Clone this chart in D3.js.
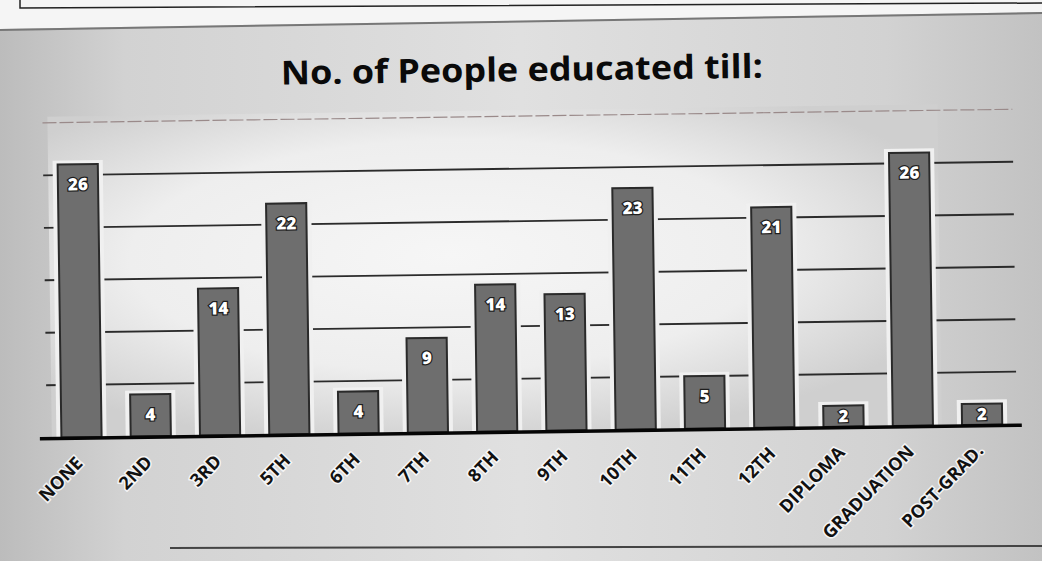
<!DOCTYPE html>
<html>
<head>
<meta charset="utf-8">
<script src="https://cdn.jsdelivr.net/npm/d3@7"></script>
<style>
  body { margin: 0; background: #c8c8c8; }
  svg { display: block; }
</style>
</head>
<body>
<script>
// data
var categories = ["NONE", "2ND", "3RD", "5TH", "6TH", "7TH", "8TH", "9TH", "10TH", "11TH", "12TH", "DIPLOMA", "GRADUATION", "POST-GRAD."];
var counts = [26, 4, 14, 22, 4, 9, 14, 13, 23, 5, 21, 2, 26, 2];
var yTicks = [5, 10, 15, 20, 25, 30];
var title = "No. of People educated till:";

var W = 1042, H = 561;
var plotLeft = 45, plotRight = 1015, plotBase = 431, plotTop = 116;

var svg = d3.select("body").append("svg")
    .attr("width", W)
    .attr("height", H);

var defs = svg.append("defs");
var bg = defs.append("linearGradient").attr("id", "bg");
bg.append("stop").attr("offset", "0%").attr("stop-color", "#bcbcbc");
bg.append("stop").attr("offset", "12%").attr("stop-color", "#d2d2d2");
bg.append("stop").attr("offset", "50%").attr("stop-color", "#e0e0e0");
bg.append("stop").attr("offset", "85%").attr("stop-color", "#d2d2d2");
bg.append("stop").attr("offset", "100%").attr("stop-color", "#c2c2c2");

var plotBg = defs.append("radialGradient").attr("id", "plotbg")
    .attr("cx", "45%").attr("cy", "45%").attr("r", "60%");
plotBg.append("stop").attr("offset", "0%").attr("stop-color", "#f6f6f6");
plotBg.append("stop").attr("offset", "60%").attr("stop-color", "#eeeeee");
plotBg.append("stop").attr("offset", "100%").attr("stop-color", "#cfcfcf");

// photo background: grey page, white paper strip at the top
svg.append("rect").attr("width", W).attr("height", H).attr("fill", "url(#bg)");
svg.append("path")
    .attr("d", "M0,0 L1042,0 L1042,12 L0,29 Z")
    .attr("fill", "#f5f5f5");
svg.append("path")
    .attr("d", "M20,0 L20,8 L1042,3")
    .attr("fill", "none").attr("stroke", "#222").attr("stroke-width", 1.5);
svg.append("path")
    .attr("d", "M0,30 L1042,13")
    .attr("fill", "none").attr("stroke", "#777").attr("stroke-width", 2);
svg.append("path")
    .attr("d", "M170,548 L1042,546")
    .attr("fill", "none").attr("stroke", "#444").attr("stroke-width", 2);

// the printed chart sits slightly tilted in the photo
var g = svg.append("g").attr("transform", "rotate(-0.8,530,300)");

// scales
var x = d3.scaleBand()
    .domain(categories)
    .range([plotLeft, plotRight])
    .paddingInner(0.42)
    .paddingOuter(0.21);

var y = d3.scaleLinear()
    .domain([0, 30])
    .range([plotBase, plotTop]);

// lighter plot area
g.append("rect")
    .attr("x", 50).attr("y", y(30) - 6)
    .attr("width", 890).attr("height", plotBase - y(30) + 6)
    .attr("fill", "url(#plotbg)");

// title
g.append("text")
    .attr("x", 525)
    .attr("y", 81)
    .attr("text-anchor", "middle")
    .attr("textLength", 482)
    .attr("lengthAdjust", "spacingAndGlyphs")
    .style("font-family", "'Open Sans', sans-serif")
    .style("font-weight", 700)
    .style("font-size", "33px")
    .style("fill", "#0a0a0a")
    .text(title);

// gridlines
g.selectAll(".grid")
    .data(yTicks)
    .enter().append("line")
    .attr("class", "grid")
    .attr("x1", plotLeft)
    .attr("x2", plotRight)
    .attr("y1", function(d) { return y(d); })
    .attr("y2", function(d) { return y(d); })
    .attr("stroke", function(d) { return d == 30 ? "#9a8a8a" : "#2b2b2b"; })
    .attr("stroke-width", function(d) { return d == 30 ? 1.2 : 1.8; })
    .attr("stroke-dasharray", function(d) { return d == 30 ? "14,3" : null; });

// light halo round each bar so gridlines stop short of it
g.selectAll(".halo")
    .data(counts)
    .enter().append("rect")
    .attr("class", "halo")
    .attr("x", function(d, i) { return x(categories[i]) - 5; })
    .attr("y", function(d) { return y(d) - 4; })
    .attr("width", x.bandwidth() + 10)
    .attr("height", function(d) { return plotBase - y(d) + 4; })
    .attr("fill", "#f0f0f0");

// bars
g.selectAll(".bar")
    .data(counts)
    .enter().append("rect")
    .attr("class", "bar")
    .attr("x", function(d, i) { return x(categories[i]); })
    .attr("y", function(d) { return y(d); })
    .attr("width", x.bandwidth())
    .attr("height", function(d) { return plotBase - y(d); })
    .attr("fill", "#6e6e6e")
    .attr("stroke", "#2a2a2a")
    .attr("stroke-width", 2);

// value labels
g.selectAll(".val")
    .data(counts)
    .enter().append("text")
    .attr("class", "val")
    .attr("x", function(d, i) { return x(categories[i]) + x.bandwidth() / 2; })
    .attr("y", function(d) {
      var h = plotBase - y(d);
      return y(d) + Math.min(20, h / 2) + 6;
    })
    .attr("text-anchor", "middle")
    .style("font-family", "'Open Sans', sans-serif")
    .style("font-weight", 800)
    .style("font-size", "17px")
    .style("fill", "#ffffff")
    .style("stroke", "#1e1e1e")
    .style("stroke-width", 2.5)
    .style("paint-order", "stroke")
    .text(function(d) { return d; });

// x axis line
g.append("line")
    .attr("x1", 38).attr("x2", 1020)
    .attr("y1", plotBase + 1).attr("y2", plotBase + 1)
    .attr("stroke", "#050505")
    .attr("stroke-width", 3.5);

// category labels
g.selectAll(".cat")
    .data(categories)
    .enter().append("text")
    .attr("class", "cat")
    .attr("transform", function(d) {
      var cx = x(d) + x.bandwidth() / 2 + 2;
      return "translate(" + cx + "," + (plotBase + 27) + ") rotate(-45)";
    })
    .attr("text-anchor", "end")
    .style("font-family", "'Open Sans', sans-serif")
    .style("font-weight", 700)
    .style("font-size", "18px")
    .style("fill", "#111")
    .style("stroke", "#ffffff")
    .style("stroke-width", 3)
    .style("stroke-opacity", 0.8)
    .style("paint-order", "stroke")
    .text(function(d) { return d; });
</script>
</body>
</html>
